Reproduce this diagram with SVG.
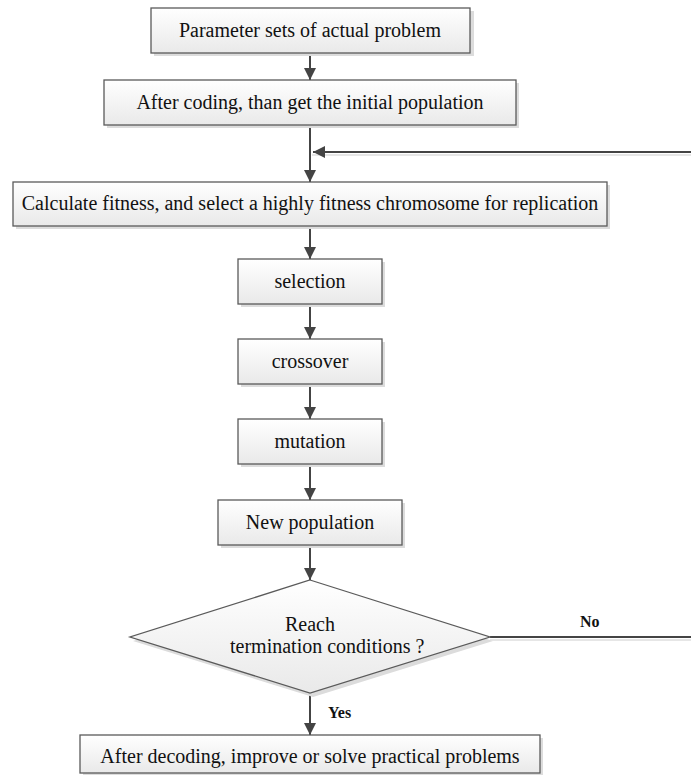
<svg xmlns="http://www.w3.org/2000/svg" width="691" height="775" viewBox="0 0 691 775">
<style>
.box{fill:url(#g);stroke:#5a5a5a;stroke-width:1.3}
.sh{fill:#dcdcdc}
.t{font-family:"Liberation Serif","Times New Roman",serif;font-size:20px;fill:#111;text-anchor:middle}
.lb{font-family:"Liberation Serif","Times New Roman",serif;font-size:16px;font-weight:bold;fill:#111}
.c{fill:none;stroke:#444;stroke-width:2}
.cs{fill:none;stroke:#e6e6e6;stroke-width:2}
</style>
<defs>
<linearGradient id="g" x1="0" y1="0" x2="0" y2="1">
<stop offset="0" stop-color="#ffffff"/>
<stop offset="1" stop-color="#e9e9e9"/>
</linearGradient>
<marker id="a" viewBox="0 0 12 12" refX="12" refY="6" markerWidth="12" markerHeight="12" markerUnits="userSpaceOnUse" orient="auto">
<path d="M0,0 L12,6 L0,12 Z" fill="#444"/>
</marker>
</defs>
<g id="connectors">
<path class="cs" d="M312,155 L700,155"/>
<path class="cs" d="M490,640 L700,640"/>
<path class="c" d="M310,53 L310,80" marker-end="url(#a)"/>
<path class="c" d="M310,125 L310,182" marker-end="url(#a)"/>
<path class="c" d="M700,152 L313,152" marker-end="url(#a)"/>
<path class="c" d="M310,226 L310,259" marker-end="url(#a)"/>
<path class="c" d="M310,304 L310,339" marker-end="url(#a)"/>
<path class="c" d="M310,384 L310,419" marker-end="url(#a)"/>
<path class="c" d="M310,464 L310,500" marker-end="url(#a)"/>
<path class="c" d="M310,545 L310,580" marker-end="url(#a)"/>
<path class="c" d="M490,637 L700,637 L700,152"/>
<path class="c" d="M310,693 L310,735" marker-end="url(#a)"/>
<text class="lb" x="580" y="627">No</text>
<text class="lb" x="328" y="718">Yes</text>
</g>
<g id="n1">
<rect class="sh" x="154" y="11" width="320" height="45"/>
<rect class="box" x="151" y="8" width="319" height="45"/>
<text class="t" x="310" y="37">Parameter sets of actual problem</text>
</g>
<g id="n2">
<rect class="sh" x="107" y="83" width="412" height="45"/>
<rect class="box" x="104" y="80" width="412" height="45"/>
<text class="t" x="310" y="109">After coding, than get the initial population</text>
</g>
<g id="n3">
<rect class="sh" x="16" y="185" width="594" height="44"/>
<rect class="box" x="13" y="182" width="594" height="44"/>
<text class="t" x="310" y="210">Calculate fitness, and select a highly fitness chromosome for replication</text>
</g>
<g id="n4">
<rect class="sh" x="241" y="262" width="144" height="45"/>
<rect class="box" x="238" y="259" width="144" height="45"/>
<text class="t" x="310" y="288">selection</text>
</g>
<g id="n5">
<rect class="sh" x="241" y="342" width="144" height="45"/>
<rect class="box" x="238" y="339" width="144" height="45"/>
<text class="t" x="310" y="368">crossover</text>
</g>
<g id="n6">
<rect class="sh" x="241" y="422" width="144" height="45"/>
<rect class="box" x="238" y="419" width="144" height="45"/>
<text class="t" x="310" y="448">mutation</text>
</g>
<g id="n7">
<rect class="sh" x="221" y="503" width="184" height="45"/>
<rect class="box" x="218" y="500" width="184" height="45"/>
<text class="t" x="310" y="529">New population</text>
</g>
<g id="n8">
<polygon class="sh" points="313,584 493,641 313,697 133,641"/>
<polygon class="box" points="310,580 490,637 310,693 130,637"/>
<text class="t" x="285" y="631" style="text-anchor:start">Reach</text>
<text class="t" x="230" y="653" style="text-anchor:start">termination conditions ?</text>
</g>
<g id="n9">
<rect class="sh" x="83" y="738" width="460" height="37"/>
<rect class="box" x="80" y="735" width="460" height="38"/>
<text class="t" x="310" y="763">After decoding, improve or solve practical problems</text>
</g>
</svg>
